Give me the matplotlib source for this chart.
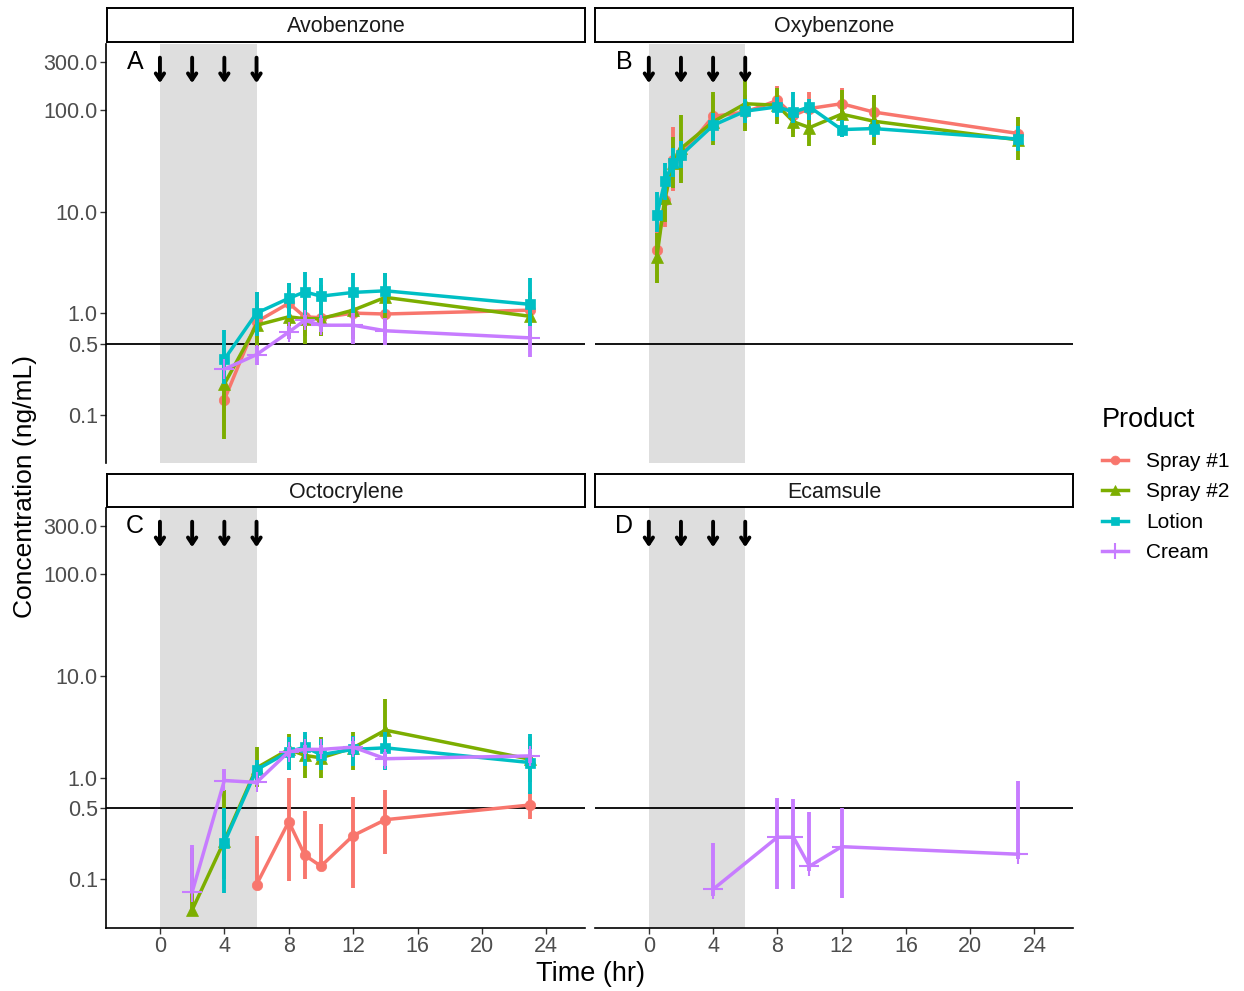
import matplotlib
matplotlib.use('Agg')
import matplotlib.pyplot as plt
from matplotlib.lines import Line2D

plt.rcParams['font.family'] = ['Liberation Sans', 'DejaVu Sans']

# ---------------- data ----------------
products = ['Spray #1', 'Spray #2', 'Lotion', 'Cream']
colors = ['#F8766D', '#7CAE00', '#00BFC4', '#C77CFF']
markers = ['o', '^', 's', '+']
panels = ['Avobenzone', 'Oxybenzone', 'Octocrylene', 'Ecamsule']
letters = ['A', 'B', 'C', 'D']
y_ticks = [0.1, 0.5, 1, 10, 100, 300]
y_tick_labels = ['0.1', '0.5', '1.0', '10.0', '100.0', '300.0']
x_ticks = [0, 4, 8, 12, 16, 20, 24]
dose_times = [0, 2, 4, 6]
lloq = 0.5

# Avobenzone
avo_time = [4, 6, 8, 9, 10, 12, 14, 23]
avo_spray1 = [0.14, 0.82, 1.25, 0.92, 0.90, 1.0, 0.98, 1.07]
avo_spray1_lo = [0.07, 0.45, 0.75, 0.6, 0.6, 0.65, 0.6, 0.7]
avo_spray1_hi = [0.3, 1.6, 2.0, 1.4, 1.3, 1.5, 1.5, 1.6]
avo_spray2 = [0.20, 0.76, 0.92, 0.88, 0.88, 1.07, 1.43, 0.93]
avo_spray2_lo = [0.058, 0.47, 0.55, 0.5, 0.6, 0.55, 0.8, 0.55]
avo_spray2_hi = [0.45, 1.3, 1.95, 1.65, 1.9, 1.8, 2.5, 1.6]
avo_lotion = [0.35, 1.0, 1.40, 1.62, 1.47, 1.6, 1.66, 1.22]
avo_lotion_lo = [0.2, 0.6, 0.9, 0.9, 0.85, 1.0, 1.0, 0.6]
avo_lotion_hi = [0.68, 1.6, 2.0, 2.55, 2.2, 2.5, 2.5, 2.2]
avo_cream = [0.28, 0.39, 0.65, 0.85, 0.76, 0.76, 0.67, 0.57]
avo_cream_lo = [0.28, 0.31, 0.55, 0.75, 0.65, 0.5, 0.48, 0.37]
avo_cream_hi = [0.28, 0.47, 0.75, 0.95, 0.9, 1.0, 0.9, 0.75]

# Oxybenzone
oxy_time = [0.5, 1, 1.5, 2, 4, 6, 8, 9, 10, 12, 14, 23]
oxy_spray1 = [4.2, 13, 32, 36, 87, 96, 125, 89, 104, 116, 96, 59]
oxy_spray1_lo = [2.0, 7, 16, 20, 55, 65, 85, 60, 70, 80, 65, 40]
oxy_spray1_hi = [8.6, 22, 68, 60, 140, 140, 175, 130, 150, 165, 140, 86]
oxy_spray2 = [3.6, 13.5, 30, 42, 77, 116, 112, 77, 67.5, 91.5, 78, 51]
oxy_spray2_lo = [2.0, 8, 17, 19, 45, 63, 73, 55, 44, 55, 45, 32]
oxy_spray2_hi = [6.1, 25, 55, 89, 150, 198, 164, 108, 100, 157, 140, 85]
oxy_lotion = [9.2, 20, 30, 36, 71, 98, 108, 96, 108, 64.5, 66, 52]
oxy_lotion_lo = [6.3, 13, 22, 27, 50, 75, 85, 75, 80, 55, 55, 40]
oxy_lotion_hi = [15.6, 30, 42, 50, 95, 130, 135, 150, 130, 80, 80, 70]

# Octocrylene
oct_time_s1 = [6, 8, 9, 10, 12, 14, 23]
oct_spray1 = [0.089, 0.37, 0.173, 0.135, 0.27, 0.387, 0.54]
oct_spray1_lo = [0.089, 0.096, 0.1, 0.12, 0.083, 0.177, 0.39]
oct_spray1_hi = [0.27, 1.0, 0.47, 0.35, 0.64, 0.75, 0.73]
oct_time_s2 = [2, 4, 6, 8, 9, 10, 12, 14, 23]
oct_spray2 = [0.05, 0.24, 1.25, 1.9, 1.66, 1.57, 1.97, 2.94, 1.52]
oct_spray2_lo = [0.05, 0.1, 0.81, 1.2, 1.0, 1.0, 1.2, 1.43, 0.9]
oct_spray2_hi = [0.206, 0.75, 2.0, 2.7, 2.6, 2.5, 2.8, 5.9, 2.5]
oct_time_lo = [4, 6, 8, 9, 10, 12, 14, 23]
oct_lotion = [0.23, 1.2, 1.8, 2.0, 1.69, 1.9, 1.97, 1.41]
oct_lotion_lo = [0.074, 0.9, 1.2, 1.3, 1.2, 1.3, 1.2, 0.7]
oct_lotion_hi = [0.5, 1.5, 2.5, 2.8, 2.4, 2.6, 2.8, 2.7]
oct_time_cr = [2, 4, 6, 8, 9, 10, 12, 14, 23]
oct_cream = [0.075, 0.94, 0.9, 1.8, 1.9, 1.9, 2.0, 1.54, 1.64]
oct_cream_lo = [0.075, 0.9, 0.85, 1.6, 1.7, 1.7, 1.7, 1.3, 1.4]
oct_cream_hi = [0.22, 1.23, 0.95, 2.0, 2.1, 2.1, 2.3, 1.8, 1.9]

# Ecamsule
eca_time = [4, 8, 9, 10, 12, 23]
eca_cream = [0.08, 0.26, 0.26, 0.135, 0.21, 0.177]
eca_cream_lo = [0.068, 0.08, 0.08, 0.12, 0.066, 0.16]
eca_cream_hi = [0.23, 0.63, 0.62, 0.46, 0.5, 0.94]

data = {
    'Avobenzone': {
        'Spray #1': (avo_time, avo_spray1, avo_spray1_lo, avo_spray1_hi),
        'Spray #2': (avo_time, avo_spray2, avo_spray2_lo, avo_spray2_hi),
        'Lotion': (avo_time, avo_lotion, avo_lotion_lo, avo_lotion_hi),
        'Cream': (avo_time, avo_cream, avo_cream_lo, avo_cream_hi),
    },
    'Oxybenzone': {
        'Spray #1': (oxy_time, oxy_spray1, oxy_spray1_lo, oxy_spray1_hi),
        'Spray #2': (oxy_time, oxy_spray2, oxy_spray2_lo, oxy_spray2_hi),
        'Lotion': (oxy_time, oxy_lotion, oxy_lotion_lo, oxy_lotion_hi),
    },
    'Octocrylene': {
        'Spray #1': (oct_time_s1, oct_spray1, oct_spray1_lo, oct_spray1_hi),
        'Spray #2': (oct_time_s2, oct_spray2, oct_spray2_lo, oct_spray2_hi),
        'Lotion': (oct_time_lo, oct_lotion, oct_lotion_lo, oct_lotion_hi),
        'Cream': (oct_time_cr, oct_cream, oct_cream_lo, oct_cream_hi),
    },
    'Ecamsule': {
        'Cream': (eca_time, eca_cream, eca_cream_lo, eca_cream_hi),
    },
}

# ---------------- layout ----------------
W, H = 1244, 991
fig = plt.figure(figsize=(W / 100, H / 100), dpi=100)


def rect(l, r, t, b):
    return [l / W, 1 - b / H, (r - l) / W, (b - t) / H]


ax_px = [(106, 585, 44, 463), (595, 1073, 44, 463),
         (106, 585, 508, 928), (595, 1073, 508, 928)]
strip_px = [(107, 585, 8, 42), (595, 1073, 8, 42),
            (107, 585, 474, 507), (595, 1073, 474, 507)]

draw_order = ['Cream', 'Spray #1', 'Lotion', 'Spray #2']
msize = {'Spray #1': 7.5, 'Spray #2': 8.5, 'Lotion': 7.5, 'Cream': 14}

for i, name in enumerate(panels):
    ax = fig.add_axes(rect(*ax_px[i]))
    ax.set_yscale('log')
    ax.set_xlim(-3.35, 26.4)
    ax.set_ylim(0.0333, 450)
    ax.axvspan(0, 6, color='#DEDEDE', lw=0, zorder=0)
    ax.axhline(lloq, color='black', lw=1.3, zorder=1)
    for p in draw_order:
        if p not in data[name]:
            continue
        k = products.index(p)
        t, m, lo, hi = data[name][p]
        ax.vlines(t, lo, hi, color=colors[k], lw=2.8, zorder=2 + k)
        ax.plot(t, m, color=colors[k], lw=2.5, marker=markers[k],
                markersize=msize[p], markeredgewidth=1.5 if p == 'Cream' else 0.5,
                zorder=2 + k)
    for d in dose_times:
        ax.annotate('', xy=(d, 185), xytext=(d, 330),
                    arrowprops=dict(arrowstyle='->,head_length=0.45,head_width=0.3',
                                    color='black', lw=2.8, shrinkA=0, shrinkB=0),
                    zorder=20)
    ax.text(-1.55, 300, letters[i], fontsize=18, ha='center', va='center', color='black')

    for s in ['top', 'right']:
        ax.spines[s].set_visible(False)
    ax.minorticks_off()
    ax.set_yticks(y_ticks)
    ax.set_xticks(x_ticks)
    left = i % 2 == 0
    bottom = i >= 2
    ax.spines['left'].set_visible(left)
    ax.spines['bottom'].set_visible(bottom)
    ax.spines['left'].set_linewidth(1.2)
    ax.spines['bottom'].set_linewidth(1.2)
    if left:
        ax.set_yticklabels(y_tick_labels)
    ax.tick_params(axis='y', left=left, labelleft=left, length=4, width=1,
                   color='#333333', labelcolor='#4D4D4D', labelsize=15.5, pad=2)
    ax.tick_params(axis='x', bottom=bottom, labelbottom=bottom, length=4, width=1,
                   color='#333333', labelcolor='#4D4D4D', labelsize=15.5, pad=2)

    sax = fig.add_axes(rect(*strip_px[i]))
    sax.set_xticks([])
    sax.set_yticks([])
    for s in sax.spines.values():
        s.set_linewidth(1.4)
        s.set_color('black')
    sax.text(0.5, 0.45, name, ha='center', va='center', fontsize=15.5, color='#1A1A1A',
             transform=sax.transAxes)

fig.text(590 / W, 1 - 974 / H, 'Time (hr)', ha='center', va='center', fontsize=19.5)
fig.text(25 / W, 1 - 487 / H, 'Concentration (ng/mL)', ha='center', va='center',
         fontsize=19, rotation=90)

fig.text(1102 / W, 1 - 420 / H, 'Product', ha='left', va='center', fontsize=19.5)
handles = [Line2D([0], [0], color=colors[k], lw=2.5, marker=markers[k],
                  markersize=msize[p] * 0.85, markeredgewidth=1.5 if p == 'Cream' else 0.5)
           for k, p in enumerate(products)]
leg = fig.legend(handles, products, loc='upper left',
                 bbox_to_anchor=(1102 / W, 1 - 452 / H), frameon=False,
                 fontsize=15, handlelength=1.25, borderpad=0,
                 handletextpad=0.85, labelspacing=0.55, borderaxespad=0)

fig.savefig('out.png', dpi=100)
